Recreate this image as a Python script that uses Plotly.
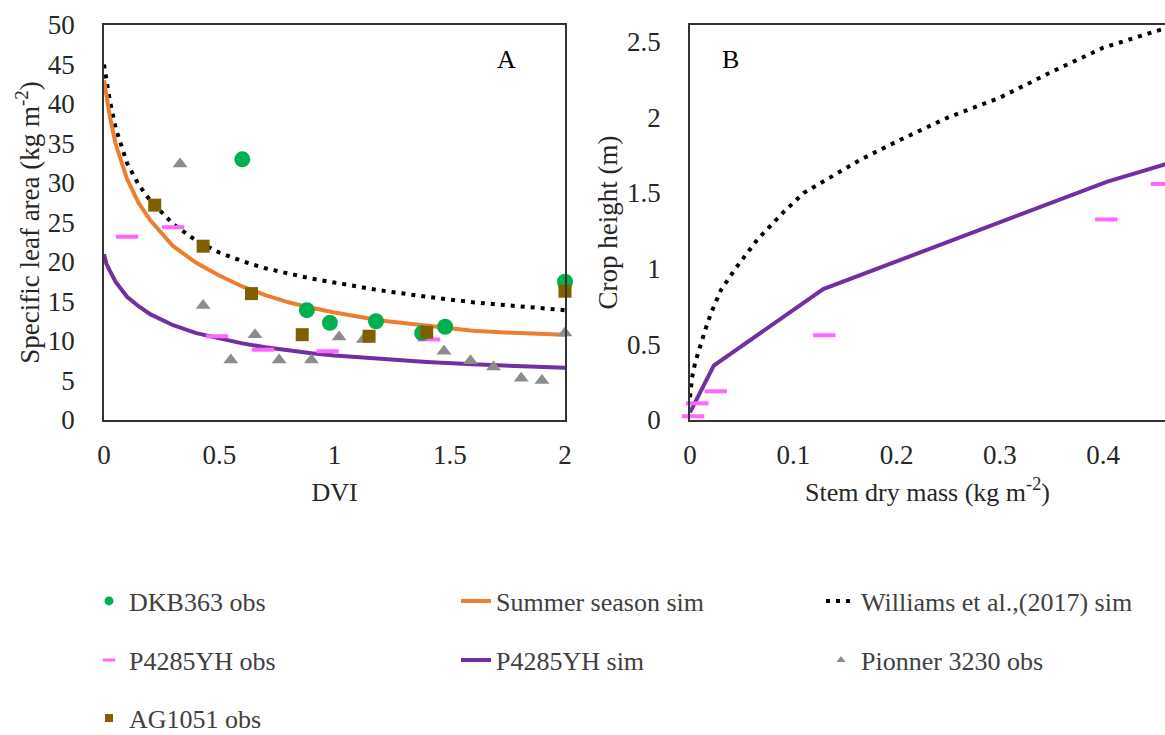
import plotly.graph_objects as go

# ---------------- Panel A data (DVI vs specific leaf area) ----------------
dvi_sim = [0, 0.01, 0.025, 0.05, 0.1, 0.15, 0.2, 0.3, 0.4, 0.5, 0.6, 0.7, 0.8, 0.9, 1.0, 1.2, 1.4, 1.6, 1.8, 2.0]
summer_sim = [43, 41, 38.5, 35, 30.5, 27.5, 25.3, 22.0, 19.9, 18.3, 16.9, 15.8, 14.9, 14.2, 13.6, 12.6, 11.9, 11.3, 11.0, 10.8]
p4285_sim_a = [21, 19.8, 18.9, 17.5, 15.6, 14.4, 13.4, 12.0, 11.0, 10.3, 9.7, 9.2, 8.8, 8.45, 8.15, 7.7, 7.35, 7.05, 6.8, 6.6]
williams_sim_a = [45, 43, 40.5, 37, 32.5, 29.8, 27.8, 24.8, 22.7, 21.2, 20.1, 19.2, 18.5, 17.9, 17.4, 16.4, 15.6, 14.9, 14.4, 13.9]

dkb_x = [0.6, 0.88, 0.98, 1.18, 1.38, 1.48, 2.0]
dkb_y = [33, 13.9, 12.3, 12.5, 11.0, 11.8, 17.5]

ag_x = [0.22, 0.43, 0.64, 0.86, 1.15, 1.40, 2.0]
ag_y = [27.2, 22.0, 16.0, 10.8, 10.6, 11.1, 16.3]

pio_x = [0.33, 0.43, 0.55, 0.655, 0.76, 0.90, 1.02, 1.125, 1.475, 1.59, 1.69, 1.81, 1.90, 2.0]
pio_y = [32.4, 14.5, 7.6, 10.8, 7.6, 7.6, 10.5, 10.2, 8.7, 7.5, 6.7, 5.3, 5.0, 11.0]

p4285_obs_ax = [0.10, 0.30, 0.49, 0.69, 0.97, 1.41]
p4285_obs_ay = [23.2, 24.4, 10.6, 8.9, 8.7, 10.2]

# ---------------- Panel B data (stem dry mass vs crop height) ----------------
stem_p4285 = [0.0, 0.023, 0.129, 0.404, 0.47]
height_p4285 = [0.05, 0.36, 0.865, 1.575, 1.71]

stem_williams = [0, 0.002, 0.005, 0.01, 0.015, 0.02, 0.03, 0.045, 0.065, 0.09, 0.11, 0.13, 0.165, 0.2, 0.25, 0.3, 0.35, 0.4, 0.44, 0.47]
height_williams = [0.15, 0.28, 0.38, 0.50, 0.60, 0.70, 0.86, 1.01, 1.19, 1.37, 1.50, 1.58, 1.72, 1.84, 2.00, 2.13, 2.30, 2.46, 2.55, 2.61]

p4285_obs_bx = [0.003, 0.007, 0.025, 0.13, 0.403, 0.457]
p4285_obs_by = [0.025, 0.11, 0.19, 0.56, 1.325, 1.56]

# ---------------- styles ----------------
GREEN = "#00B050"
ORANGE = "#ED7D31"
PURPLE = "#7030A0"
BROWN = "#7F6000"
GRAY = "#8C8C8C"
PINK = "#FF66FF"
FONT = "Liberation Serif"
W, H = 1165, 735

fig = go.Figure()

# Panel A
fig.add_trace(go.Scatter(x=dvi_sim, y=williams_sim_a, mode="lines", name="Williams et al.,(2017) sim",
                         line=dict(color="black", width=4, dash="4px,6px"), legend="legend3",
                         xaxis="x", yaxis="y"))
fig.add_trace(go.Scatter(x=dvi_sim, y=summer_sim, mode="lines", name="Summer season sim",
                         line=dict(color=ORANGE, width=4), legend="legend2", xaxis="x", yaxis="y"))
fig.add_trace(go.Scatter(x=dvi_sim, y=p4285_sim_a, mode="lines", name="P4285YH sim",
                         line=dict(color=PURPLE, width=4), legend="legend5", xaxis="x", yaxis="y"))
fig.add_trace(go.Scatter(x=pio_x, y=pio_y, mode="markers", showlegend=False, cliponaxis=False,
                         marker=dict(symbol="triangle-up", size=13, color=GRAY), xaxis="x", yaxis="y"))
fig.add_trace(go.Scatter(x=p4285_obs_ax, y=p4285_obs_ay, mode="markers", showlegend=False, cliponaxis=False,
                         marker=dict(symbol="line-ew", size=16, color=PINK, line=dict(color=PINK, width=4)),
                         xaxis="x", yaxis="y"))
fig.add_trace(go.Scatter(x=dkb_x, y=dkb_y, mode="markers", showlegend=False, cliponaxis=False,
                         marker=dict(symbol="circle", size=16, color=GREEN), xaxis="x", yaxis="y"))
fig.add_trace(go.Scatter(x=ag_x, y=ag_y, mode="markers", showlegend=False, cliponaxis=False,
                         marker=dict(symbol="square", size=13, color=BROWN), xaxis="x", yaxis="y"))

# Panel B
fig.add_trace(go.Scatter(x=stem_williams, y=height_williams, mode="lines", showlegend=False,
                         line=dict(color="black", width=4, dash="4px,6px"), xaxis="x2", yaxis="y2"))
fig.add_trace(go.Scatter(x=stem_p4285, y=height_p4285, mode="lines", showlegend=False,
                         line=dict(color=PURPLE, width=4), xaxis="x2", yaxis="y2"))
fig.add_trace(go.Scatter(x=p4285_obs_bx, y=p4285_obs_by, mode="markers", showlegend=False, cliponaxis=False,
                         marker=dict(symbol="line-ew", size=16, color=PINK, line=dict(color=PINK, width=4)),
                         xaxis="x2", yaxis="y2"))

# legend-only entries for the observed series (small symbols as in the reference)
fig.add_trace(go.Scatter(x=[None], y=[None], mode="markers", name="DKB363 obs", legend="legend",
                         marker=dict(symbol="circle", size=9, color=GREEN), xaxis="x", yaxis="y"))
fig.add_trace(go.Scatter(x=[None], y=[None], mode="markers", name="P4285YH obs", legend="legend4",
                         marker=dict(symbol="line-ew", size=9, color=PINK, line=dict(color=PINK, width=3)),
                         xaxis="x", yaxis="y"))
fig.add_trace(go.Scatter(x=[None], y=[None], mode="markers", name="Pionner 3230 obs", legend="legend6",
                         marker=dict(symbol="triangle-up", size=8, color=GRAY), xaxis="x", yaxis="y"))
fig.add_trace(go.Scatter(x=[None], y=[None], mode="markers", name="AG1051 obs", legend="legend7",
                         marker=dict(symbol="square", size=8, color=BROWN), xaxis="x", yaxis="y"))

axis_common = dict(showline=True, linecolor="#333333", linewidth=1.5, showgrid=False, zeroline=False,
                   ticks="", automargin=False, tickfont=dict(family=FONT, size=27, color="#262626"))

ydom = [(H - 420) / H, (H - 25) / H]

fig.update_layout(
    width=W, height=H,
    margin=dict(l=0, r=0, t=0, b=0, autoexpand=False),
    paper_bgcolor="white", plot_bgcolor="white",
    font=dict(family=FONT, size=25, color="#262626"),
    xaxis=dict(axis_common, domain=[104 / W, 565 / W], range=[0, 2], tickvals=[0, 0.5, 1, 1.5, 2],
               mirror=True, anchor="y", ticklabelstandoff=10,
               title=dict(text="DVI", font=dict(family=FONT, size=26, color="#262626"), standoff=14)),
    yaxis=dict(axis_common, domain=ydom, range=[0, 50], tickvals=list(range(0, 55, 5)),
               mirror=True, anchor="x", ticklabelstandoff=22,
               title=dict(text="Specific leaf area (kg m<sup>-2</sup>)",
                          font=dict(family=FONT, size=27, color="#262626"), standoff=0)),
    xaxis2=dict(axis_common, domain=[690 / W, 1.0], range=[0, 475 / 1033], tickvals=[0, 0.1, 0.2, 0.3, 0.4],
                mirror=True, anchor="y2", ticklabelstandoff=10,
                title=dict(text="Stem dry mass (kg m<sup>-2</sup>)",
                           font=dict(family=FONT, size=26, color="#262626"), standoff=14)),
    yaxis2=dict(axis_common, domain=ydom, range=[0, 2.61], tickvals=[0, 0.5, 1, 1.5, 2, 2.5],
                mirror=False, anchor="x2", ticklabelstandoff=22,
                title=dict(text="Crop height (m)", font=dict(family=FONT, size=27, color="#262626"), standoff=2)),
    annotations=[
        dict(text="A", x=506 / W, y=(H - 60) / H, xref="paper", yref="paper", showarrow=False,
             xanchor="center", yanchor="middle", font=dict(family=FONT, size=26, color="black")),
        dict(text="B", x=730 / W, y=(H - 60) / H, xref="paper", yref="paper", showarrow=False,
             xanchor="center", yanchor="middle", font=dict(family=FONT, size=26, color="black")),
    ],
)

leg_font = dict(family=FONT, size=26, color="#404040")
col_x = [89 / W, 456 / W, 821 / W]
row_y = [(H - 601) / H, (H - 660) / H, (H - 718) / H]
legend_pos = {
    "legend": (col_x[0], row_y[0]),
    "legend2": (col_x[1], row_y[0]),
    "legend3": (col_x[2], row_y[0]),
    "legend4": (col_x[0], row_y[1]),
    "legend5": (col_x[1], row_y[1]),
    "legend6": (col_x[2], row_y[1]),
    "legend7": (col_x[0], row_y[2]),
}
for name, (lx, ly) in legend_pos.items():
    fig.update_layout({name: dict(x=lx, y=ly, xanchor="left", yanchor="middle", xref="paper", yref="paper",
                                  font=leg_font, bgcolor="rgba(0,0,0,0)", borderwidth=0,
                                  orientation="v")})

fig.write_html("out.html", config={"displayModeBar": False},
               post_script="document.body.style.margin='0px';")
